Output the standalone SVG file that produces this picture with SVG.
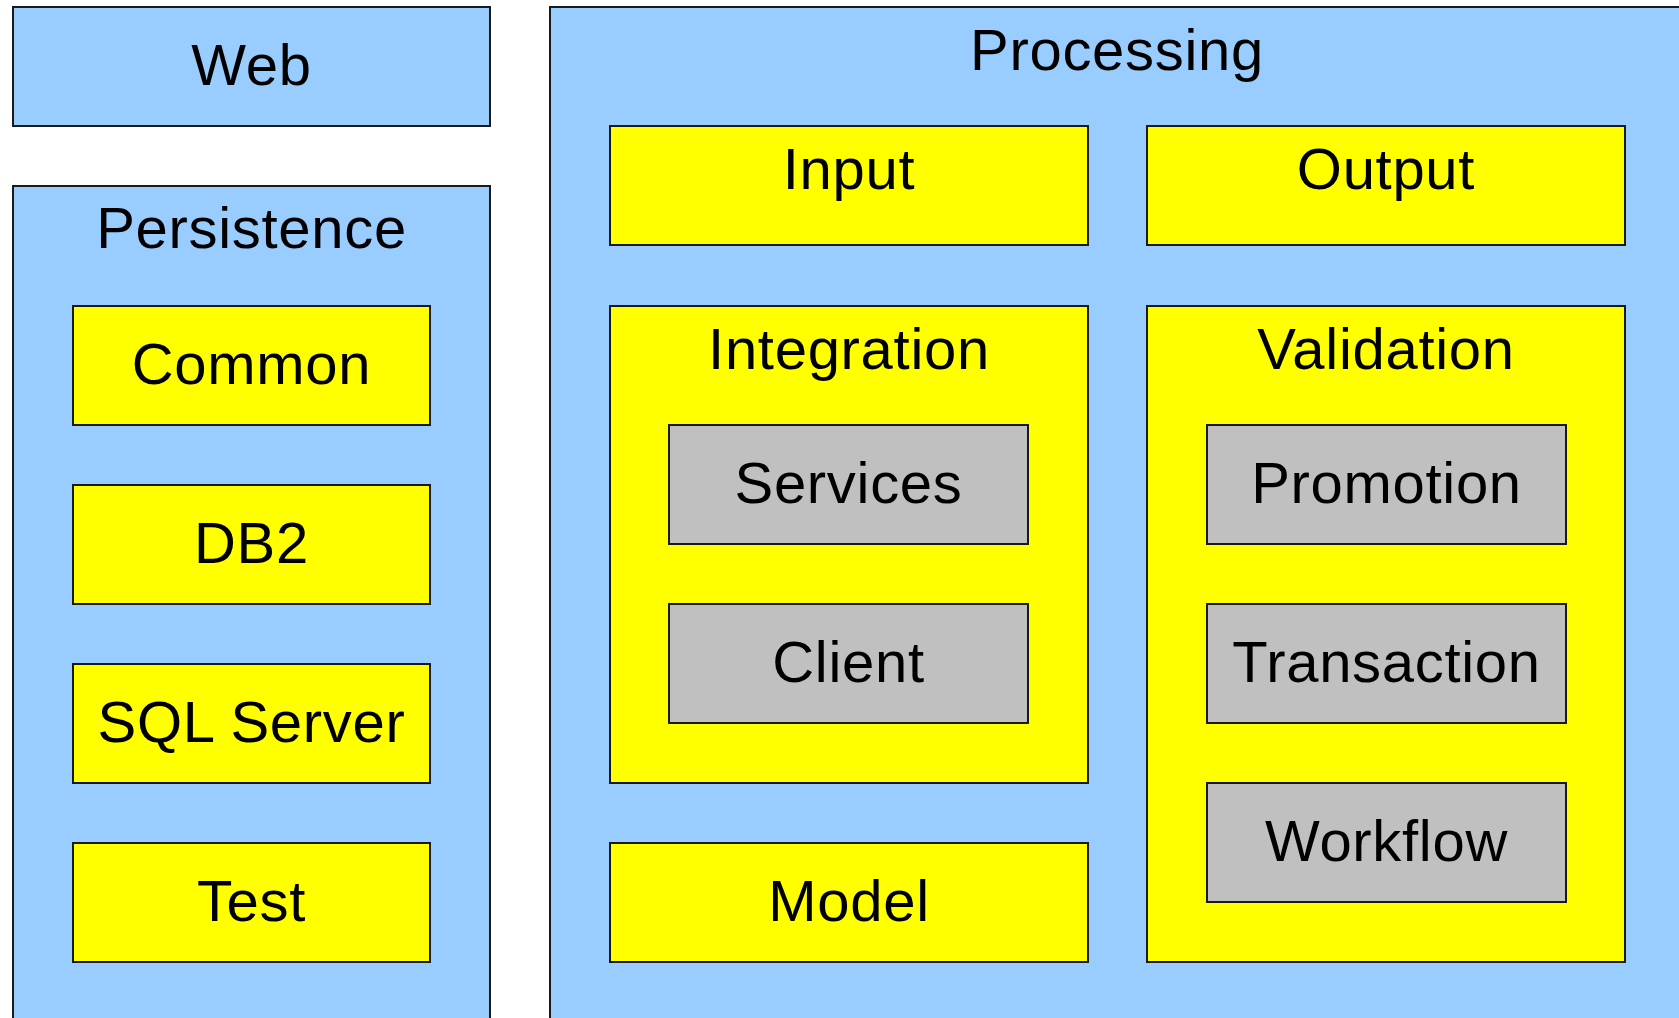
<svg xmlns="http://www.w3.org/2000/svg" width="1679" height="1018" viewBox="0 0 1679 1018">
<style>
rect{stroke:#1a1a1a;stroke-width:2}
.b{fill:#99ccff}
.y{fill:#ffff00}
.g{fill:#c0c0c0}
text{font-family:"Liberation Sans",Arial,sans-serif;font-size:58px;letter-spacing:0.7px;fill:#000;text-anchor:middle}
</style>
<rect width="1679" height="1018" fill="#ffffff" style="stroke:none"/>
<g id="web"><rect class="b" x="13" y="7" width="477" height="119"/><text x="251.5" y="85">Web</text></g>
<g id="persistence"><rect class="b" x="13" y="186" width="477" height="850"/><text x="251.5" y="248">Persistence</text></g>
<g id="common"><rect class="y" x="73" y="306" width="357" height="119"/><text x="251.5" y="384">Common</text></g>
<g id="db2"><rect class="y" x="73" y="485" width="357" height="119"/><text x="251.5" y="563">DB2</text></g>
<g id="sqlserver"><rect class="y" x="73" y="664" width="357" height="119"/><text x="251.5" y="742">SQL Server</text></g>
<g id="test"><rect class="y" x="73" y="843" width="357" height="119"/><text x="251.5" y="921">Test</text></g>
<g id="processing"><rect class="b" x="550" y="7" width="1140" height="1030"/><text x="1117" y="70">Processing</text></g>
<g id="input"><rect class="y" x="610" y="126" width="478" height="119"/><text x="849" y="189">Input</text></g>
<g id="output"><rect class="y" x="1147" y="126" width="478" height="119"/><text x="1386" y="189">Output</text></g>
<g id="integration"><rect class="y" x="610" y="306" width="478" height="477"/><text x="849" y="369">Integration</text></g>
<g id="services"><rect class="g" x="669" y="425" width="359" height="119"/><text x="848.5" y="503">Services</text></g>
<g id="client"><rect class="g" x="669" y="604" width="359" height="119"/><text x="848.5" y="682">Client</text></g>
<g id="model"><rect class="y" x="610" y="843" width="478" height="119"/><text x="849" y="921">Model</text></g>
<g id="validation"><rect class="y" x="1147" y="306" width="478" height="656"/><text x="1386" y="369">Validation</text></g>
<g id="promotion"><rect class="g" x="1207" y="425" width="359" height="119"/><text x="1386.5" y="503">Promotion</text></g>
<g id="transaction"><rect class="g" x="1207" y="604" width="359" height="119"/><text x="1386.5" y="682">Transaction</text></g>
<g id="workflow"><rect class="g" x="1207" y="783" width="359" height="119"/><text x="1386.5" y="861">Workflow</text></g>
<g id="connectors"></g>
</svg>
